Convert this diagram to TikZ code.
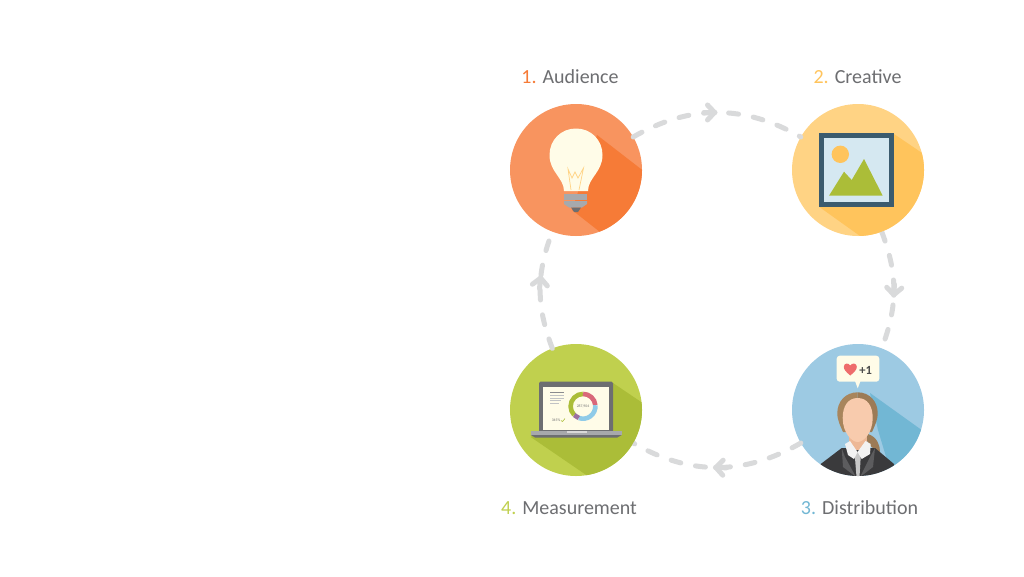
\documentclass[tikz,border=0pt]{standalone}
\usepackage{fontspec}
\setmainfont{Carlito}
\usepackage{tikz}
\usetikzlibrary{arrows.meta,
    decorations.markings,
    positioning}
\definecolor{audiencelight}{HTML}{F8945F}
\definecolor{audiencedark}{HTML}{F67B37}
\definecolor{creativelight}{HTML}{FFD384}
\definecolor{creativedark}{HTML}{FFC45C}
\definecolor{distlight}{HTML}{9DCAE3}
\definecolor{distdark}{HTML}{72B7D4}
\definecolor{measurelight}{HTML}{C0D04E}
\definecolor{measuredark}{HTML}{ABBD38}
\definecolor{labelgray}{HTML}{6D6E71}
\definecolor{dashgray}{HTML}{D9DADB}
\definecolor{bulbcream}{HTML}{FFFCE8}
\definecolor{metalgray}{HTML}{A7A9AC}
\definecolor{frameblue}{HTML}{3B5B6E}
\definecolor{skyblue}{HTML}{D5E8F1}
\definecolor{hairlight}{HTML}{A8855C}
\definecolor{hairdark}{HTML}{9C7B56}
\definecolor{skin}{HTML}{F8CBAD}
\definecolor{skindark}{HTML}{EDB896}
\definecolor{suitdark}{HTML}{3A3A3C}
\definecolor{suitlight}{HTML}{5C5C5E}
\definecolor{heartred}{HTML}{EE6C6C}
\definecolor{ringred}{HTML}{D9687A}
\definecolor{ringblue}{HTML}{8FCBE8}
\definecolor{ringpurple}{HTML}{9B6FA0}
\tikzset{
    stepcircle/.style={circle,minimum size=132pt,inner sep=0pt,outer sep=0pt},
    steplabel/.style={text=labelgray,font=\fontsize{20}{24}\selectfont,inner sep=0pt,anchor=base},
    cycleline/.style={draw=dashgray,line width=5pt,line cap=round,dash pattern=on 10pt off 15pt,
        postaction={decorate},decoration={markings,
        mark=at position #1 with {\draw[solid,line cap=round,line width=5pt] (-13pt,0pt) -- (-2pt,0pt);
            \arrow{Straight Barb[round,length=7pt,width=15pt,line width=5pt]}}}},
    tinytext/.style={inner sep=0pt,text=black!55}
}
\begin{document}
\begin{tikzpicture}[x=1pt,y=-1pt]
    \useasboundingbox (0,0) rectangle (1024,576);
    \fill[white] (0,0) rectangle (1024,576);

    \node[stepcircle,fill=audiencelight] (audience) at (576,170) {};
    \node[stepcircle,fill=creativelight] (creative) at (858,170) {};
    \node[stepcircle,fill=distlight] (distribution) at (858,410) {};
    \node[stepcircle,fill=measurelight] (measurement) at (576,410) {};

    \draw[cycleline=0.5] (audience) to[bend left=30] (creative);
    \draw[cycleline=0.56] (creative) to[bend left=21] (distribution);
    \draw[cycleline=0.52] (distribution) to[bend left=30] (measurement);
    \draw[cycleline=0.62] (measurement) to[bend left=21] (audience);

    \node[steplabel] (audiencelabel) at (570,83) {\textcolor{audiencedark}{1.} Audience};
    \node[steplabel] (creativelabel) at (857.5,83) {\textcolor{creativedark}{2.} Creative};
    \node[steplabel] (distlabel) at (859.5,514) {\textcolor{distdark}{3.} Distribution};
    \node[steplabel] (measurelabel) at (569,514) {\textcolor{measurelight}{4.} Measurement};

    \begin{scope}
        \clip (576,170) circle (66pt);
        \fill[audiencedark] (597,135) -- (650,176) -- (650,240) -- (600,232) -- (572,210) -- cycle;
    \end{scope}
    \fill[bulbcream] (564,191) .. controls (564,178) and (549.5,172) .. (549.5,155)
        .. controls (549.5,140) and (561,128.5) .. (576,128.5)
        .. controls (591,128.5) and (602.5,140) .. (602.5,155)
        .. controls (602.5,172) and (588,178) .. (588,191) -- cycle;
    \draw[creativelight,line width=0.7pt] (571,190) -- (568,169) -- (572,178) -- (575,172) -- (578,178) -- (583.5,168) -- (579,190);
    \fill[metalgray] (564,193.5) rectangle (587,200);
    \fill[metalgray] (564,201) -- (587,201) -- (587,204) -- (582,207.5) -- (569,207.5) -- (564,204) -- cycle;
    \fill[labelgray] (571,207.5) -- (581,207.5) -- (578,212) -- (574,212) -- cycle;

    \begin{scope}
        \clip (858,170) circle (66pt);
        \fill[creativedark] (894,134) -- (925,155) -- (925,240) -- (860,236) -- (819,206.7) -- cycle;
    \end{scope}
    \fill[frameblue] (819,133.3) rectangle (894,206.7);
    \fill[skyblue] (824,138.3) rectangle (889,201.7);
    \fill[creativedark] (840.3,154.3) circle (8.7pt);
    \fill[measuredark] (829,195.7) -- (844,171.7) -- (851.7,180) -- (864,159) -- (882.7,195.7) -- cycle;

    \begin{scope}
        \clip (858,410) circle (66pt);
        \fill[distdark] (870,393) -- (930,436) -- (930,490) -- (890,470) -- (878,430) -- cycle;
        \fill[hairdark] (868,434) .. controls (877,437) and (880,445) .. (880,452) .. controls (874,450) and (867,444) .. (866,438) -- cycle;
        \fill[suitdark] (820.7,464) -- (841.7,448) -- (875,448) -- (894,464) -- (894,480) -- (820.7,480) -- cycle;
        \fill[suitlight] (841.7,448) -- (845,457) -- (856,477) -- (843,467) -- cycle;
        \fill[suitlight] (875,448) -- (870,457) -- (860,477) -- (873,467) -- cycle;
        \fill[black!22] (854.5,452) -- (861,452) -- (859.5,477) -- (856.5,477) -- cycle;
    \end{scope}
    \fill[bulbcream,rounded corners=3pt] (836.7,355.7) rectangle (879.3,381.7);
    \fill[bulbcream] (855,381) -- (860.5,381) -- (857.7,388.3) -- cycle;
    \fill[heartred] (850.3,375.5) .. controls (846,372) and (843.8,369.5) .. (843.8,366.8)
        .. controls (843.8,363) and (848.5,362.5) .. (850.3,365.5)
        .. controls (852,362.5) and (856.8,363) .. (856.8,366.8)
        .. controls (856.8,369.5) and (854.5,372) .. (850.3,375.5) -- cycle;
    \node[text=black!70,font=\fontsize{12.5}{14}\bfseries\selectfont,inner sep=0pt] (likes) at (865.7,370.5) {+1};
    \fill[hairlight] (857.7,392.3) .. controls (845,392.3) and (837.3,402) .. (837.3,413)
        .. controls (837.3,421) and (841,427) .. (843,432) -- (857.7,432) -- cycle;
    \fill[hairdark] (857.7,392.3) .. controls (870,392.3) and (877.7,402) .. (877.7,413)
        .. controls (877.7,421) and (874,427) .. (872,432) -- (857.7,432) -- cycle;
    \fill[skindark] (849,436) rectangle (866.5,450);
    \fill[skin] (857.7,398) .. controls (848,398) and (842.7,406) .. (842.7,418)
        .. controls (842.7,433) and (852,442) .. (857.7,442)
        .. controls (863.4,442) and (872.7,433) .. (872.7,418)
        .. controls (872.7,406) and (867.4,398) .. (857.7,398) -- cycle;
    \fill[black!5] (845,444) -- (850,441) -- (857.5,452) -- (854,459) -- (848,455) -- cycle;
    \fill[black!5] (870.7,444) -- (865.5,441) -- (857.5,452) -- (861.7,459) -- (870,454) -- cycle;

    \begin{scope}
        \clip (576,410) circle (66pt);
        \fill[measuredark] (613,383) -- (650,408) -- (650,480) -- (587.7,476) -- (530.7,437) -- cycle;
    \end{scope}
    \fill[labelgray,rounded corners=1.5pt] (539,381.7) rectangle (613,432);
    \fill[bulbcream] (543.3,386.7) rectangle (609,430);
    \fill[metalgray] (530.7,431) rectangle (621.7,435);
    \fill[labelgray] (530.7,435) -- (621.7,435) -- (617,437.7) -- (535.5,437.7) -- cycle;
    \fill[black!15] (566.7,431) rectangle (586.7,433);
    \draw[measuredark,line width=4.6pt] (583,406.3) ++(135:12.4) arc[start angle=135,end angle=270,radius=12.4];
    \draw[ringred,line width=4.6pt] (583,406.3) ++(-90:12.4) arc[start angle=-90,end angle=-5,radius=12.4];
    \draw[ringblue,line width=4.6pt] (583,406.3) ++(-5:12.4) arc[start angle=-5,end angle=110,radius=12.4];
    \draw[ringpurple,line width=4.6pt] (583,406.3) ++(110:12.4) arc[start angle=110,end angle=135,radius=12.4];
    \node[tinytext,font=\fontsize{3.8}{4}\selectfont] (ringvalue) at (583,406.3) {287,904};
    \node[tinytext,font=\fontsize{3.8}{4}\selectfont] (sidevalue) at (556,420) {345\%};
    \draw[measuredark,line width=0.6pt] (561,420.5) -- (562.5,421.5) -- (565,418.5);
    \fill[labelgray!80] (550,391.5) rectangle (563.5,392.5);
    \fill[metalgray!70] (550,395) rectangle (563.5,396);
    \fill[metalgray!70] (550,397.5) rectangle (563.5,398.5);
    \fill[metalgray!70] (550,400) rectangle (561,401);
    \fill[metalgray!70] (550,402.5) rectangle (559,403.5);
\end{tikzpicture}
\end{document}
